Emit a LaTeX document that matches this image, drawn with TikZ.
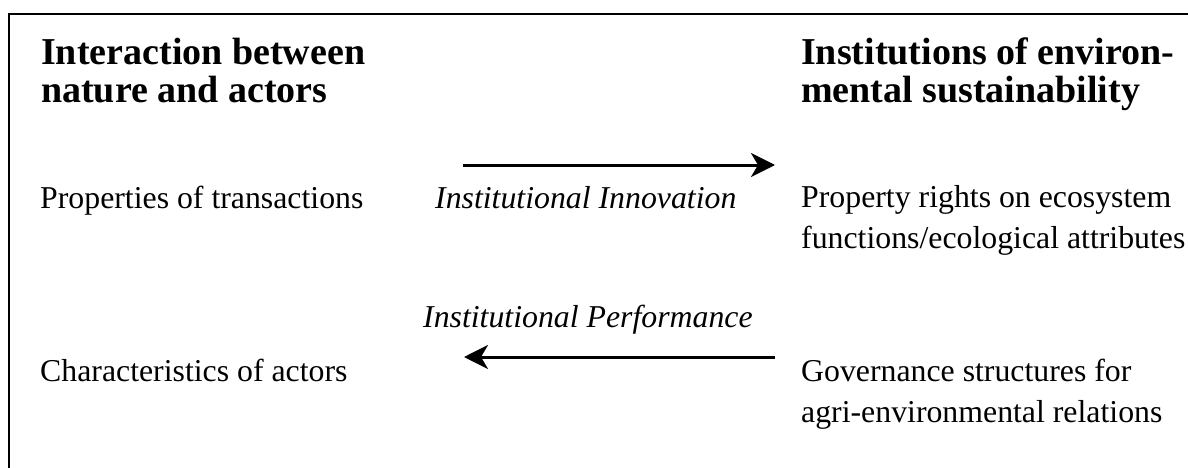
\documentclass[tikz,border=0pt]{standalone}
\usepackage{fontspec}
\setmainfont{Liberation Serif}
\usetikzlibrary{arrows.meta}
\tikzset{
  head/.style={anchor=base west, inner sep=0pt, align=left, font=\fontsize{38}{38.5}\selectfont\bfseries},
  body/.style={anchor=base west, inner sep=0pt, align=left, font=\fontsize{31.8}{40.5}\selectfont},
  lab/.style={anchor=base west, inner sep=0pt, font=\fontsize{31.8}{40}\selectfont\itshape},
  flow/.style={line width=3pt, -{Stealth[length=24pt,width=24pt,inset=7pt]}}
}
\begin{document}
\begin{tikzpicture}[x=1pt,y=-1pt]
\useasboundingbox (0,0) rectangle (1188,468);
\coordinate (tl) at (9,14);
\coordinate (tr) at (1188,14);
\coordinate (bl) at (9,468);
\draw[line width=2pt] (bl) -- (tl) -- (tr);

% base anchor of a multi-line node sits on its last line
\node[head] (h1) at (41,103) {Interaction between\\nature and actors};
\node[head] (h2) at (801,103) {Institutions of environ-\\mental sustainability};

\node[body] (p1) at (40,208) {Properties of transactions};
\node[body] (c1) at (40,381) {Characteristics of actors};
\node[body] (p2) at (801,248) {Property rights on ecosystem\\functions/ecological attributes};
\node[body] (g2) at (801,422) {Governance structures for\\agri-environmental relations};

\node[lab] (ii) at (435,208) {Institutional Innovation};
\node[lab] (ip) at (423,327) {Institutional Performance};

\coordinate (a1s) at (463,165);
\coordinate (a1e) at (775,165);
\coordinate (a2s) at (775,357);
\coordinate (a2e) at (464,357);
\draw[flow] (a1s) -- (a1e);
\draw[flow] (a2s) -- (a2e);
\end{tikzpicture}
\end{document}
